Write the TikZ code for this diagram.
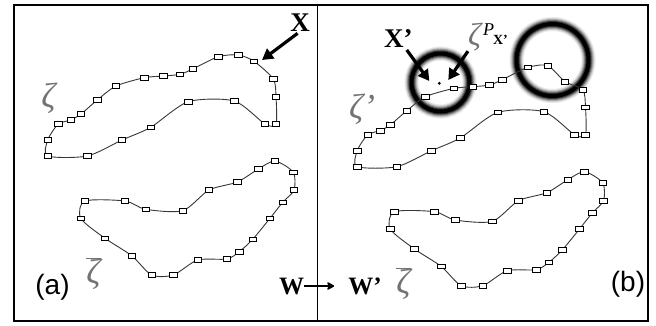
\documentclass[tikz,border=0pt]{standalone}
\usepackage{fontspec}
\setmainfont{Liberation Serif}
\newfontfamily\labelfont{Liberation Sans}
\usetikzlibrary{arrows.meta}

\definecolor{linegray}{gray}{0.22}
\definecolor{zetagray}{gray}{0.45}

% small hollow boxes sitting on the contour points
\pgfdeclareplotmark{pad}{%
  \pgfpathrectangle{\pgfqpoint{-3.8pt}{-2.3pt}}{\pgfqpoint{7.6pt}{4.6pt}}%
  \pgfusepathqfillstroke}

% upper contour, #2 is the tracked point
\newcommand\upperloop[2]{%
  \draw[contour,#1] plot[smooth cycle] coordinates {(47.7,156) (87.3,156) (122,140) (150.7,127.3) (188.3,101.7) (234.3,101) (265,124) (276,124) (276,96.7) (273.3,79) #2 (238.3,55) (218.3,56.7) (192.7,69) (180,74.3) (163.3,76) (144.3,77.7) (116,86) (97.3,100) (81,114) (70.7,120) (58.3,124) (47.7,140)};}
% lower contour
\newcommand\lowerloop[1]{%
  \draw[contour,#1] plot[smooth cycle] coordinates {(85,201) (125,201) (145.7,209.3) (182.7,210.7) (209,190) (237.3,182) (258.3,169) (275,161) (293.3,172.3) (294,190) (282.7,202.3) (270,218.3) (252.7,239.3) (239.3,251.7) (226.7,259) (197.7,260) (173.3,275) (151.7,275) (131.7,255.7) (105,238.3) (80.7,218.3)};}

\tikzset{
  contour/.style={draw=linegray, line width=0.9pt, tension=0.45, mark=pad,
    mark options={solid, fill=white, draw=black, line width=0.7pt}},
  bigbold/.style={font=\fontsize{27}{27}\selectfont\bfseries, inner sep=0pt},
  zeta/.style={font=\fontsize{35}{35}\selectfont\itshape, text=zetagray, inner sep=0pt},
  panel/.style={font=\labelfont\fontsize{28}{28}\selectfont, inner sep=0pt},
  ptr/.style={line width=3.2pt, -{Triangle[length=11pt,width=12pt]}},
}

\begin{document}
\begin{tikzpicture}[x=1pt, y=-1pt]
\fill[white] (0,0) rectangle (656,325);
\useasboundingbox (0,0) rectangle (656,325);

% blurred rings
\foreach \w/\s in {14/8,12/18,10/34,8/55,6/78,4/100} {
  \draw[line width=\w pt, black!\s] (440.5,82.5) circle[radius=29];
  \draw[line width=\w pt, black!\s] (552.5,60) circle[radius=36];
}
\coordinate (dot) at (439.3,83.3);
\fill (dot) circle[radius=1.6];

% left panel
\upperloop{}{(254,61.3)}
\lowerloop{}
% right panel
\upperloop{shift={(309.5,10.7)}}{(255.5,71)}
\lowerloop{shift={(309.5,10.7)}}

% frame
\draw[line width=2pt] (13.5,5) rectangle (647.5,320.5);
\draw[line width=1.5pt] (317.5,5) -- (317.5,320.5);

\node[zeta] (z) at (48.5,98) {ζ};
\node[zeta] (zb) at (93.5,273.5) {$\overline{\hbox{ζ}}$};
\node[zeta] (zp) at (362,109) {ζ'};
\node[zeta] (zbp) at (403.5,283.5) {$\overline{\hbox{ζ}}$};
\node[panel] (a) at (52.5,287) {(a)};
\node[panel] (b) at (628,284) {(b)};

\node[bigbold] (X) at (300,22.5) {X};
\coordinate (Xtip) at (262,60);
\draw[ptr, shorten <=3pt] (X.south) -- (Xtip);

\node[bigbold] (Xp) at (398.3,38.3) {X'};
\coordinate (Xptip) at (429.3,81);
\draw[ptr, shorten <=3pt] (Xp) -- (Xptip);

\node[inner sep=0pt] (zP) at (488,37) {{\fontsize{32}{32}\selectfont\itshape\color{zetagray}ζ}\kern2pt\raisebox{10pt}{\fontsize{18}{18}\selectfont\itshape P}\kern-1pt\raisebox{1pt}{\fontsize{14}{14}\selectfont\bfseries X'}};
\coordinate (zPtip) at (448.3,80);
\draw[ptr] (zP.south west) -- (zPtip);

\node[bigbold, font=\fontsize{25}{25}\selectfont\bfseries] (W) at (291.5,286) {W};
\node[bigbold, font=\fontsize{25}{25}\selectfont\bfseries] (Wp) at (365,286) {W'};
\draw[line width=2.5pt, -{Stealth[length=9pt,width=10pt,round]}, shorten >=14pt] (W) -- (Wp);
\end{tikzpicture}
\end{document}
